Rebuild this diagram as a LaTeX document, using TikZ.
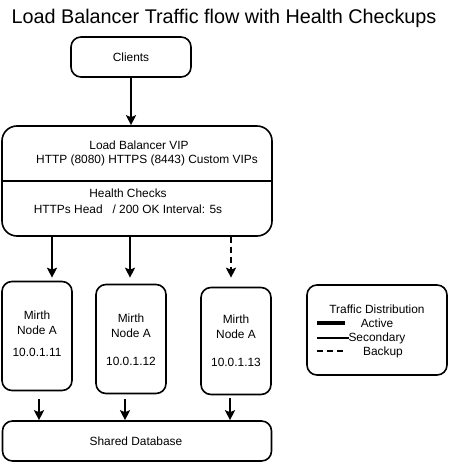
\documentclass[tikz,border=0pt]{standalone}
\usepackage{fontspec}
\setmainfont{Liberation Sans}
\usetikzlibrary{arrows.meta}
\begin{document}
\begin{tikzpicture}[x=1pt,y=-1pt,
  box/.style={draw,line width=1.6pt,rounded corners=10pt,inner sep=0pt},
  txt/.style={font=\fontsize{11.9}{13}\selectfont,inner sep=0pt,anchor=center},
  arr/.style={line width=1.6pt,-{Stealth[length=10pt,width=10pt,inset=2pt]}},
  dsh/.style={dash pattern=on 6pt off 4pt}]
\useasboundingbox (0,0) rectangle (448,462);

\node[font=\fontsize{19.8}{22}\selectfont,inner sep=0pt] (title) at (224,18) {Load Balancer Traffic flow with Health Checkups};

% Clients
\node[box,minimum width=120pt,minimum height=40pt] (clients) at (131,57) {};
\node[txt] (tclients) at (clients) {Clients};

% Load balancer
\node[box,rounded corners=15pt,minimum width=270pt,minimum height=110pt] (lb) at (137,181) {};
\draw[line width=1.6pt] (lb.west) -- (lb.east);
\node[txt] (lb1) at (139,145) {Load Balancer VIP};
\node[txt] (lb2) at (147,160) {HTTP (8080) HTTPS (8443) Custom VIPs};
\node[txt] (lb3) at (128,193) {Health Checks};
\node[txt] (lb4) at (128,209) {HTTPs Head\ \ \ / 200 OK Interval: 5s};

\draw[arr] (clients.south -| 131,0) -- (lb.north -| 131,0);

% Mirth nodes
\node[box,minimum width=70pt,minimum height=109pt] (ma) at (37,336) {};
\node[box,minimum width=70pt,minimum height=109pt] (mb) at (131,339) {};
\node[box,minimum width=70pt,minimum height=107pt] (mc) at (236,341) {};

\node[txt] (ma1) at (37,315) {Mirth};
\node[txt] (ma2) at (37,330) {Node A};
\node[txt] (ma3) at (37,352) {10.0.1.11};
\node[txt] (mb1) at (131,318) {Mirth};
\node[txt] (mb2) at (131,333) {Node A};
\node[txt] (mb3) at (131,361) {10.0.1.12};
\node[txt] (mc1) at (236,319) {Mirth};
\node[txt] (mc2) at (236,334) {Node A};
\node[txt] (mc3) at (236,362) {10.0.1.13};

\draw[arr,shorten >=3pt] (lb.south -| 52,0) -- (ma.north -| 52,0);
\draw[arr,shorten >=6pt] (lb.south -| 130,0) -- (mb.north -| 130,0);
\draw[arr,dsh,shorten >=9pt] (lb.south -| 231,0) -- (mc.north -| 231,0);

% Database
\node[box,minimum width=269pt,minimum height=40pt] (db) at (137,441) {};
\node[txt] (tdb) at (136,441) {Shared Database};

\draw[arr,shorten <=8pt] (ma.south -| 39,0) -- (db.north -| 39,0);
\draw[arr,shorten <=5pt] (mb.south -| 125,0) -- (db.north -| 125,0);
\draw[arr,shorten <=3pt] (mc.south -| 230,0) -- (db.north -| 230,0);

% Legend
\node[box,minimum width=140pt,minimum height=90pt] (leg) at (377,330) {};
\node[txt] (legt) at (377,309) {Traffic Distribution};
\coordinate (la1) at (317,323);
\coordinate (la2) at (345,323);
\draw[line width=4pt] (la1) -- (la2);
\node[txt] (lact) at (377,323) {Active};
\coordinate (ls1) at (317,338);
\coordinate (ls2) at (349,338);
\draw[line width=1.6pt] (ls1) -- (ls2);
\node[txt] (lsec) at (377,338) {Secondary};
\coordinate (lb1c) at (317,351);
\coordinate (lb2c) at (346,351);
\draw[line width=1.6pt,dsh] (lb1c) -- (lb2c);
\node[txt] (lbak) at (383,352) {Backup};
\end{tikzpicture}
\end{document}
